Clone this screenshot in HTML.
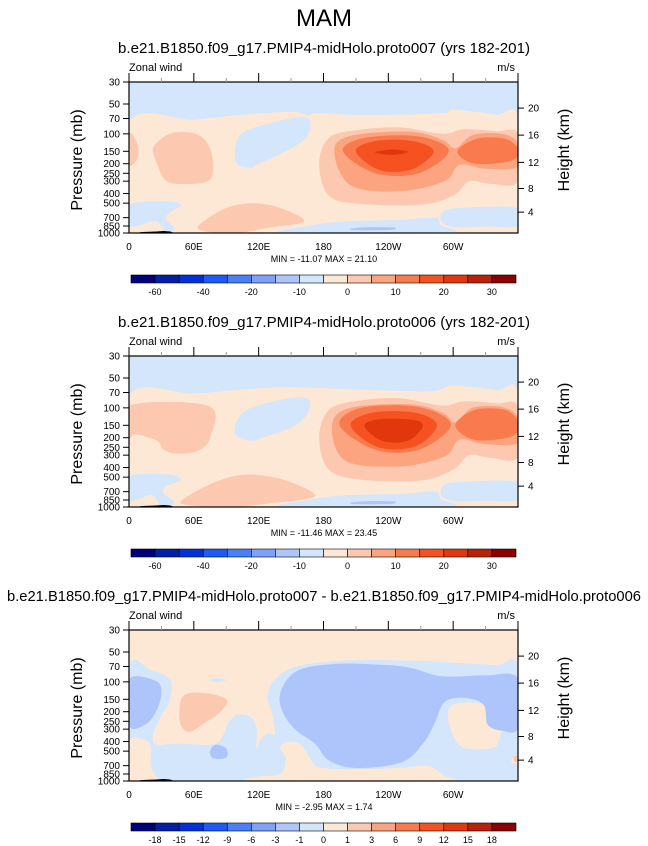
<!DOCTYPE html>
<html><head><meta charset="utf-8">
<style>
html,body{margin:0;padding:0;background:#fff;}
svg{display:block;font-family:"Liberation Sans",Arial,sans-serif;}
</style></head>
<body>
<svg id="fig" width="648" height="846" viewBox="0 0 648 846" xmlns="http://www.w3.org/2000/svg">
<text x="324" y="26" font-size="24" text-anchor="middle">MAM</text>
</svg>
<script>
// ---- data ----
const lonTicks = [0, 60, 120, 180, 240, 300];
const lonTickLabels = ["0", "60E", "120E", "180", "120W", "60W"];
const presTicks = [30, 50, 70, 100, 150, 200, 250, 300, 400, 500, 700, 850, 1000];
const heightTicks = [20, 16, 12, 8, 4];
const heightPres = [55, 103, 194, 356, 616];
const panelTitles = [
  "b.e21.B1850.f09_g17.PMIP4-midHolo.proto007 (yrs 182-201)",
  "b.e21.B1850.f09_g17.PMIP4-midHolo.proto006 (yrs 182-201)",
  "b.e21.B1850.f09_g17.PMIP4-midHolo.proto007 - b.e21.B1850.f09_g17.PMIP4-midHolo.proto006"
];
const minMaxLabels = ["MIN = -11.07  MAX =  21.10", "MIN = -11.46  MAX =  23.45", "MIN = -2.95  MAX =   1.74"];
const cbColors = ["#00007f","#0020a8","#0032dc","#1e5af8","#4a7ffa","#7ea2fb","#aec5fb","#d4e6fb","#fde8d6","#fcc8b0","#fca47f","#f97a4d","#f65120","#e0380c","#ba2106","#8c0000"];
const cbLabels12 = ["-60","","-40","","-20","","-10","","0","","10","","20","","30"];
const cbLabels3 = ["-18","-15","-12","-9","-6","-3","-1","0","1","3","6","9","12","15","18"];

// contour regions: [colorIndex, [[lon,p],...]]
const panel1Regions = [
  [8, [[0,76],[60,72],[100,65],[150,60],[165,65],[175,62],[220,65],[290,62],[300,57],[340,64],[360,70],[360,1000],[0,1000]]],
  [7, [[98,150],[104,100],[130,78],[160,68],[168,78],[162,115],[140,160],[120,200],[112,220],[100,200]]],
  [7, [[0,520],[32,480],[48,520],[38,620],[34,720],[42,900],[34,980],[26,760],[12,820],[0,840]]],
  [7, [[145,1000],[165,850],[200,760],[250,740],[283,700],[288,830],[294,1000]]],
  [7, [[290,620],[305,560],[360,560],[360,850],[330,860],[305,880],[290,790]]],
  [6, [[205,905],[220,875],[245,880],[242,930],[210,935]]],
  [9, [[0,100],[6,115],[9,150],[6,190],[0,200]]],
  [9, [[25,125],[40,98],[64,102],[76,150],[76,280],[58,320],[35,300],[26,200],[22,150]]],
  [9, [[65,830],[90,560],[115,500],[140,560],[162,760],[130,880],[100,1000],[70,960]]],
  [9, [[176,200],[185,110],[210,92],[250,86],[290,100],[310,90],[340,94],[360,100],[360,300],[335,320],[315,300],[300,420],[270,520],[215,510],[185,420]]],
  [10,[[190,150],[205,105],[260,95],[290,115],[302,140],[318,103],[345,100],[360,125],[360,215],[330,225],[306,205],[292,300],[250,380],[205,330]]],
  [11,[[198,150],[218,110],[268,106],[296,148],[268,250],[228,250]]],
  [11,[[304,150],[322,112],[348,112],[360,140],[360,170],[346,195],[318,198]]],
  [12,[[210,150],[228,118],[262,118],[282,150],[262,228],[232,232]]],
  [13,[[228,152],[244,144],[258,152],[246,162],[234,160]]]
];
const panel2Regions = [
  [8, [[0,76],[60,72],[100,66],[150,62],[220,66],[280,68],[300,60],[340,66],[360,72],[360,1000],[0,1000]]],
  [7, [[98,180],[106,110],[138,84],[164,80],[166,110],[152,155],[126,195],[114,215]]],
  [7, [[0,490],[36,470],[48,530],[34,620],[32,720],[42,900],[30,980],[22,760],[10,820],[0,840]]],
  [7, [[145,1000],[165,850],[200,760],[250,740],[283,700],[288,830],[294,1000]]],
  [7, [[290,620],[305,560],[360,560],[360,850],[330,860],[305,880],[290,790]]],
  [6, [[205,905],[220,875],[245,880],[242,930],[210,935]]],
  [9, [[0,95],[74,96],[75,200],[64,270],[45,290],[32,265],[26,215],[6,185],[0,200]]],
  [9, [[50,840],[80,560],[110,470],[145,540],[172,780],[130,920],[95,1000],[55,960]]],
  [9, [[176,200],[185,105],[212,85],[250,80],[290,95],[310,86],[340,90],[360,96],[360,310],[335,320],[315,300],[300,420],[270,540],[215,530],[185,420]]],
  [10,[[188,150],[205,100],[260,92],[290,112],[302,140],[318,100],[345,98],[360,125],[360,225],[330,232],[306,210],[292,310],[250,390],[200,340]]],
  [11,[[195,150],[215,100],[268,98],[298,148],[268,265],[228,265]]],
  [11,[[302,150],[320,105],[348,105],[360,135],[360,175],[346,205],[318,208]]],
  [12,[[205,150],[225,112],[265,112],[285,150],[265,245],[230,248]]],
  [13,[[218,152],[232,130],[262,132],[272,152],[258,215],[234,215]]]
];
const panel3Regions = [
  [7, [[0,72],[20,76],[38,95],[38,150],[30,220],[24,300],[22,380],[26,430],[45,420],[75,430],[85,380],[92,260],[100,215],[112,225],[118,290],[118,470],[122,380],[128,330],[135,330],[132,200],[128,140],[135,95],[155,70],[200,61],[260,61],[300,64],[340,68],[360,72],[360,1000],[0,1000]]],
  [7, [[75,96],[82,92],[90,96],[82,101]]],
  [8, [[0,390],[15,390],[20,450],[20,700],[25,900],[30,1000],[0,1000]]],
  [8, [[150,400],[160,440],[168,600],[175,720],[200,760],[250,740],[275,700],[285,780],[292,900],[290,1000],[118,1000],[120,900],[140,850],[145,600],[140,450]]],
  [8, [[300,170],[320,162],[340,175],[345,250],[342,400],[335,470],[310,460],[300,350],[295,220]]],
  [8, [[355,580],[360,560],[360,660],[354,640]]],
  [6, [[0,95],[25,98],[30,130],[25,200],[15,270],[0,275]]],
  [6, [[80,430],[90,470],[90,580],[78,590],[75,500]]],
  [6, [[140,130],[155,78],[190,66],[230,67],[260,72],[290,88],[330,86],[360,92],[360,290],[345,310],[332,270],[328,170],[310,145],[292,160],[283,260],[272,420],[252,650],[210,740],[185,620],[172,420],[155,310],[143,210]]],
  [9, [[50,140],[70,130],[90,150],[85,200],[70,260],[55,320],[47,250]]],
  [9, [[356,570],[360,560],[360,640],[356,630]]]
];
const panelBg = [7, 7, 8];
const topoLons = [10, 15, 25, 32, 38, 42];
const topoPres = [985, 975, 965, 955, 965, 1000];

// ---- drawing ----
const NS = "http://www.w3.org/2000/svg";
const svg = document.getElementById("fig");
const X0 = 129, X1 = 518, PH = 151;
function el(tag, attrs, parent) {
  const e = document.createElementNS(NS, tag);
  for (const k in attrs) e.setAttribute(k, attrs[k]);
  (parent || svg).appendChild(e);
  return e;
}
function xs(lon) { return X0 + lon / 360 * (X1 - X0); }
function ysFor(top) { return p => top + Math.log(p / 30) / Math.log(1000 / 30) * PH; }
function smoothPath(pts) {
  const n = pts.length; let d = "";
  for (let i = 0; i < n; i++) {
    const p0 = pts[(i - 1 + n) % n], p1 = pts[i], p2 = pts[(i + 1) % n], p3 = pts[(i + 2) % n];
    if (i === 0) d += "M" + p1[0].toFixed(1) + "," + p1[1].toFixed(1);
    const c1 = [p1[0] + (p2[0] - p0[0]) / 6, p1[1] + (p2[1] - p0[1]) / 6];
    const c2 = [p2[0] - (p3[0] - p1[0]) / 6, p2[1] - (p3[1] - p1[1]) / 6];
    d += "C" + c1.map(v => v.toFixed(1)).join(",") + " " + c2.map(v => v.toFixed(1)).join(",") + " " + p2[0].toFixed(1) + "," + p2[1].toFixed(1);
  }
  return d + "Z";
}

function drawPanel(idx, top, regions, labels) {
  const ys = ysFor(top);
  const g = el("g", {});
  
  
  const t = el("text", {x: 324, y: top - 29, "font-size": 15, "text-anchor": "middle"}, g);
  
  
  t.textContent = panelTitles[idx];
  t.setAttribute("textLength", idx === 2 ? 634 : 412);
  t.setAttribute("lengthAdjust", "spacingAndGlyphs");
  const zw = el("text", {x: X0, y: top - 11, "font-size": 11}, g);
  
  
  zw.textContent = "Zonal wind";
  const un = el("text", {x: X1 - 3, y: top - 11, "font-size": 11, "text-anchor": "end"}, g);
  
  
  un.textContent = "m/s";
  const clipId = "clip" + idx;
  const cp = el("clipPath", {id: clipId}, g);
  el("rect", {x: X0, y: top, width: X1 - X0, height: PH}, cp);
  const plot = el("g", {"clip-path": "url(#" + clipId + ")"}, g);
  const bg = el("rect", {x: X0, y: top, width: X1 - X0, height: PH, fill: cbColors[panelBg[idx]]}, plot);
  
  
  regions.forEach((r) => {
    const pts = r[1].map(q => [xs(q[0]), ys(q[1])]);
    const path = el("path", {d: smoothPath(pts), fill: cbColors[r[0]]}, plot);
    
    
  });
  let td = "M" + xs(topoLons[0]) + "," + ys(1000);
  topoLons.forEach((l, i) => { td += "L" + xs(l).toFixed(1) + "," + ys(topoPres[i]).toFixed(1); });
  td += "Z";
  const topo = el("path", {d: td, fill: "#000"}, plot);
  
  
  const topo2 = el("rect", {x: xs(295), y: ys(990), width: xs(318) - xs(295), height: ys(1000) - ys(990) + 1, fill: "#000"}, plot);
  
  
  const frame = el("rect", {x: X0, y: top, width: X1 - X0, height: PH, fill: "none", stroke: "#000", "stroke-width": 1.2}, g);
  
  
  for (let lon = 0; lon <= 360; lon += 30) {
    const major = lon % 60 === 0;
    el("line", {x1: xs(lon), x2: xs(lon), y1: top, y2: top - (major ? 9 : 4), stroke: major ? "#000" : "#999", "stroke-width": 1}, g);
  }
  lonTicks.forEach((lon, i) => {
    const tx = el("text", {x: xs(lon), y: top + PH + 17, "font-size": 10, "text-anchor": "middle"}, g);
    
    
    tx.textContent = lonTickLabels[i];
  });
  presTicks.forEach(p => {
    el("line", {x1: X0 - 6, x2: X0, y1: ys(p), y2: ys(p), stroke: "#000"}, g);
    const tx = el("text", {x: X0 - 9, y: ys(p) + 3.5, "font-size": 10, "text-anchor": "end"}, g);
    
    
    tx.textContent = p;
  });
  heightTicks.forEach((h, i) => {
    const yy = ys(heightPres[i]);
    el("line", {x1: X1, x2: X1 + 6, y1: yy, y2: yy, stroke: "#000"}, g);
    const tx = el("text", {x: X1 + 10, y: yy + 3.5, "font-size": 10}, g);
    
    
    tx.textContent = h;
  });
  const yl = el("text", {x: 0, y: 0, "font-size": 16, "text-anchor": "middle", transform: "translate(82," + (top + 78) + ") rotate(-90)"}, g);
  
  
  yl.textContent = "Pressure (mb)";
  const yr = el("text", {x: 0, y: 0, "font-size": 16, "text-anchor": "middle", transform: "translate(569," + (top + 68) + ") rotate(-90)"}, g);
  
  
  yr.textContent = "Height (km)";
  const mm = el("text", {x: 324, y: top + PH + 29, "font-size": 9, "text-anchor": "middle"}, g);
  
  
  mm.textContent = minMaxLabels[idx];
  const cbTop = top + PH + 42, cbX0 = 131, cbW = (516 - 131) / 16;
  const cb = el("g", {}, g);
  
  
  cbColors.forEach((c, i) => {
    const r = el("rect", {x: cbX0 + i * cbW, y: cbTop, width: cbW, height: 8, fill: c, stroke: "#000", "stroke-width": 0.6}, cb);
    
    
  });
  labels.forEach((lab, i) => {
    if (!lab) return;
    const tx = el("text", {x: cbX0 + (i + 1) * cbW, y: cbTop + 20, "font-size": 9, "text-anchor": "middle"}, cb);
    
    
    tx.textContent = lab;
  });
}
drawPanel(0, 82, panel1Regions, cbLabels12);
drawPanel(1, 356, panel2Regions, cbLabels12);
drawPanel(2, 630, panel3Regions, cbLabels3);
</script>
</body></html>
